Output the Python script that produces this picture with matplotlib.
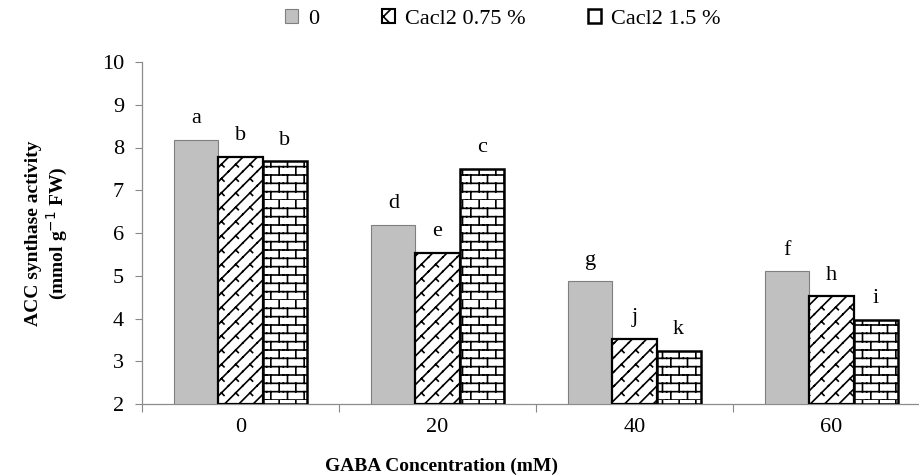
import warnings
warnings.filterwarnings("ignore")
import numpy as np
import matplotlib
matplotlib.use("Agg")
import matplotlib.pyplot as plt
import matplotlib.hatch as mhatch
from matplotlib.path import Path
from matplotlib.patches import Patch

# ---------------- data ----------------
categories = ["0", "20", "40", "60"]
series_names = ["0", "Cacl2 0.75 %", "Cacl2 1.5 %"]
vals_control = [8.18, 6.19, 4.87, 5.10]
vals_cacl075 = [7.78, 5.53, 3.52, 4.52]
vals_cacl15 = [7.68, 7.50, 3.25, 3.97]
letters_control = ["a", "d", "g", "f"]
letters_cacl075 = ["b", "e", "j", "h"]
letters_cacl15 = ["b", "c", "k", "i"]
yticks = [2, 3, 4, 5, 6, 7, 8, 9, 10]


# ---------------- custom hatches ----------------
class _SegHatch(mhatch.HatchPatternBase):
    char = None
    segs = []
    reps = 1

    def __init__(self, hatch, density):
        self.n = hatch.count(self.char) * self.reps
        self.num_vertices = 2 * len(self.segs) * self.n * self.n

    def set_vertices_and_codes(self, vertices, codes):
        k = 0
        n = self.n
        for i in range(n):
            for j in range(n):
                for (x0, y0, x1, y1) in self.segs:
                    vertices[k] = ((i + x0) / n, (j + y0) / n)
                    vertices[k + 1] = ((i + x1) / n, (j + y1) / n)
                    codes[k] = Path.MOVETO
                    codes[k + 1] = Path.LINETO
                    k += 2


class BrickHatch(_SegHatch):
    char = "B"
    reps = 6
    segs = [(0, 0, 1, 0), (0, 0.5, 1, 0.5),
            (0.25, 0, 0.25, 0.5), (0.75, 0.5, 0.75, 1.0)]


class WeaveHatch(_SegHatch):
    char = "W"
    reps = 7
    segs = [(0, 0, 1, 1),
            (0.5, 0.5, 0.68, 0.32)]


mhatch._hatch_types.extend([BrickHatch, WeaveHatch])

# ---------------- figure ----------------
plt.rcParams["font.family"] = ["Liberation Serif", "DejaVu Serif"]
plt.rcParams["hatch.linewidth"] = 1.2

fig = plt.figure(figsize=(9.2, 4.76), dpi=100)
ax = fig.add_axes([142 / 920, 72 / 476, 788 / 920, 342 / 476])

x = np.arange(len(categories))
w = 0.224
styles = [
    dict(color="#c0c0c0", edgecolor="#7f7f7f", linewidth=0.8, hatch=None),
    dict(color="white", edgecolor="black", linewidth=1.6, hatch="W"),
    dict(color="white", edgecolor="black", linewidth=1.8, hatch="B"),
]
all_vals = [vals_control, vals_cacl075, vals_cacl15]
all_letters = [letters_control, letters_cacl075, letters_cacl15]

for k, (vals, st, lets) in enumerate(zip(all_vals, styles, all_letters)):
    pos = x + (k - 1) * w
    base = 2
    ax.bar(pos, np.array(vals) - base, bottom=base, width=w,
           facecolor=st["color"], edgecolor=st["edgecolor"],
           linewidth=st["linewidth"], hatch=st["hatch"], zorder=3)
    for p, v, l in zip(pos, vals, lets):
        ax.annotate(l, (p, v), xytext=(0, 12), textcoords="offset points",
                    ha="center", va="baseline", fontsize=16)

ax.set_xlim(-0.5, len(categories) - 0.5)
ax.set_ylim(2, 10)
ax.set_yticks(yticks)
ax.set_yticklabels([str(t) for t in yticks], fontsize=16)
ax.set_xticks(x)
ax.set_xticklabels(categories, fontsize=16)
ax.set_xticks(np.arange(len(categories) + 1) - 0.5, minor=True)
ax.tick_params(axis="x", which="major", length=0, pad=10)
ax.tick_params(axis="x", which="minor", length=6, color="#888888", width=0.8)
ax.tick_params(axis="y", length=5, color="#888888", width=0.8, pad=8)

for s in ["top", "right"]:
    ax.spines[s].set_visible(False)
for s in ["left", "bottom"]:
    ax.spines[s].set_color("#8c8c8c")
    ax.spines[s].set_linewidth(0.9)

ax.set_ylabel("ACC synthase activity\n(mmol g$^{-1}$ FW)", fontsize=14,
              fontweight="bold", labelpad=23, linespacing=1.15)
fig.text(442 / 920, 1 - 466 / 476, "GABA Concentration (mM)", fontsize=14,
         fontweight="bold", ha="center", va="center")

handles = [
    Patch(facecolor="#c0c0c0", edgecolor="#7f7f7f", linewidth=0.8),
    Patch(facecolor="white", edgecolor="black", linewidth=1.5, hatch="x"),
    Patch(facecolor="white", edgecolor="black", linewidth=1.8, hatch="-"),
]
fig.legend(handles, series_names, loc="center", bbox_to_anchor=(503 / 920, 1 - 19 / 476),
           ncol=3, frameon=False, fontsize=16, handlelength=0.6, handleheight=0.6,
           handletextpad=0.45, columnspacing=2.8)

fig.savefig("out.png", dpi=100)
